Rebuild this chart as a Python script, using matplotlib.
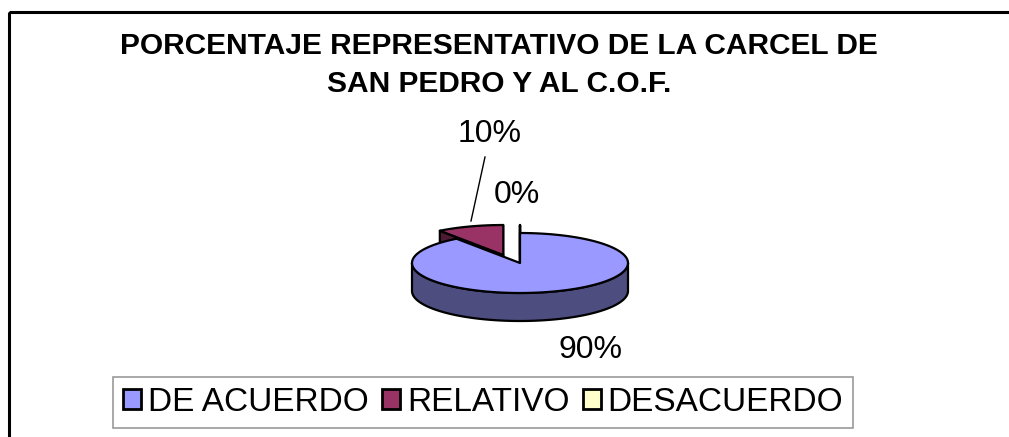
import numpy as np
import matplotlib
matplotlib.use("Agg")
import matplotlib.pyplot as plt
from matplotlib.patches import Polygon, Rectangle, Patch

plt.rcParams['font.family'] = ['Liberation Sans', 'DejaVu Sans']

# ---- data ----
categories = ["DE ACUERDO", "RELATIVO", "DESACUERDO"]
values = [90, 10, 0]
labels = ["90%", "10%", "0%"]
explode = [0.0, 0.3, 0.3]
top_colors = ["#9999FF", "#993366", "#FFFFCC"]
side_colors = ["#4D4D80", "#4D1A33", "#80806A"]
title = "PORCENTAJE REPRESENTATIVO DE LA CARCEL DE\nSAN PEDRO Y AL C.O.F."

W, H = 1009, 437
fig = plt.figure(figsize=(W / 100, H / 100), dpi=100)
ax = fig.add_axes([0, 0, 1, 1])
ax.set_xlim(0, W)
ax.set_ylim(H, 0)
ax.axis('off')

# chart frame
ax.add_patch(Rectangle((9, 12), W + 20, H + 20, fill=False, edgecolor='black', lw=2.2, zorder=0))

# ---- 3D pie geometry (pixel space, y down) ----
cx, cy = 520, 263
a, b = 108, 30
depth = 28
ex_a, ex_b = 180, 28   # explosion ellipse

def pt(theta_deg, ox, oy, dz=0.0):
    t = np.radians(theta_deg)
    return ox + a * np.sin(t), oy - b * np.cos(t) + dz

total = float(sum(values))
starts = []
acc = 0.0
for v in values:
    starts.append(acc)
    acc += v / total * 360.0

lw = 1.6
order = [1, 2, 0]
for i in order:
    t0 = starts[i]
    t1 = t0 + values[i] / total * 360.0
    mid = np.radians((t0 + t1) / 2)
    ox = cx + explode[i] * ex_a * np.sin(mid)
    oy = cy - explode[i] * ex_b * np.cos(mid)
    lo, hi = max(t0, 90), min(t1, 270)
    if hi > lo:
        th = np.linspace(lo, hi, 120)
        top = [pt(t, ox, oy) for t in th]
        bot = [pt(t, ox, oy, depth) for t in th[::-1]]
        ax.add_patch(Polygon(top + bot, closed=True, facecolor=side_colors[i],
                             edgecolor='black', lw=lw, joinstyle='round'))
    for t in (t0, t1):
        p = pt(t, ox, oy)
        face = [(ox, oy), p, (p[0], p[1] + depth), (ox, oy + depth)]
        if i != 0:
            ax.add_patch(Polygon(face, closed=True, facecolor=side_colors[i],
                                 edgecolor='black', lw=lw, joinstyle='round'))
    th = np.linspace(t0, t1, max(2, int((t1 - t0) * 2)))
    poly = [(ox, oy)] + [pt(t, ox, oy) for t in th]
    ax.add_patch(Polygon(poly, closed=True, facecolor=top_colors[i],
                         edgecolor='black', lw=lw, joinstyle='round'))

# data labels
ax.text(590, 350, labels[0], fontsize=23, ha='center', va='center')
ax.text(490, 134, labels[1], fontsize=23, ha='center', va='center')
ax.text(517, 195, labels[2], fontsize=23, ha='center', va='center')
ax.plot([485, 471], [157, 221], color='black', lw=1)

# title
ax.text(499, 65, title, fontsize=21.5, fontweight='bold', ha='center', va='center',
        linespacing=1.5)

# legend
handles = [Patch(facecolor=c, edgecolor='black', lw=2) for c in top_colors]
leg = ax.legend(handles, categories, loc='center', ncol=3,
                bbox_to_anchor=(483 / W, 1 - 402.5 / H), bbox_transform=fig.transFigure,
                fontsize=24, frameon=True, fancybox=False, edgecolor='#808080',
                handlelength=0.55, handleheight=0.55, handletextpad=0.2,
                columnspacing=0.4, borderpad=0.3, borderaxespad=0)
leg.get_frame().set_linewidth(1.2)

fig.savefig("out.png", dpi=100)
